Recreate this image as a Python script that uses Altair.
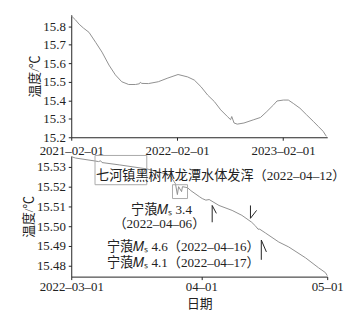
import altair as alt
import pandas as pd

# ---------- top panel data ----------
top_dates = ["2021-02-01", "2021-02-15", "2021-02-28", "2021-03-15", "2021-04-03", "2021-04-26",
             "2021-05-18", "2021-06-11", "2021-07-03", "2021-07-25", "2021-08-18", "2021-09-10",
             "2021-09-24", "2021-09-27", "2021-10-02", "2021-10-25", "2021-11-28", "2021-12-31",
             "2022-02-04", "2022-03-09", "2022-04-01", "2022-04-24", "2022-05-17", "2022-06-09",
             "2022-07-01", "2022-07-24", "2022-08-04", "2022-08-08", "2022-08-16", "2022-08-27",
             "2022-09-19", "2022-10-23", "2022-11-15", "2022-12-07", "2022-12-30", "2023-01-11",
             "2023-02-02", "2023-02-19", "2023-03-08", "2023-03-31", "2023-04-23", "2023-05-16",
             "2023-06-02", "2023-06-19", "2023-06-30"]
top_values = [15.856, 15.835, 15.811, 15.79, 15.767, 15.713,
              15.660, 15.590, 15.537, 15.500, 15.485, 15.485,
              15.489, 15.497, 15.491, 15.490, 15.500, 15.520,
              15.539, 15.526, 15.509, 15.473, 15.428, 15.393,
              15.348, 15.312, 15.295, 15.312, 15.277, 15.271,
              15.277, 15.295, 15.307, 15.339, 15.375, 15.396,
              15.401, 15.401, 15.383, 15.357, 15.321, 15.286,
              15.259, 15.232, 15.205]

# ---------- bottom panel data ----------
bot_dates = ["2022-03-01T00:00", "2022-03-02T00:00", "2022-03-06T16:00", "2022-03-07T12:00",
             "2022-03-08T00:00", "2022-03-08T08:00", "2022-03-12T14:00", "2022-03-19T00:00",
             "2022-03-24T10:00", "2022-03-25T20:00", "2022-03-26T07:00", "2022-03-26T14:00",
             "2022-03-27T07:00", "2022-03-27T12:00", "2022-03-28T17:00", "2022-03-29T12:00",
             "2022-03-31T12:00", "2022-04-01T05:00", "2022-04-02T02:00", "2022-04-02T21:00",
             "2022-04-05T05:00", "2022-04-08T08:00", "2022-04-10T16:00", "2022-04-13T00:00",
             "2022-04-13T23:00", "2022-04-14T12:00", "2022-04-14T22:00", "2022-04-16T08:00",
             "2022-04-19T11:00", "2022-04-21T20:00", "2022-04-25T20:00", "2022-04-28T22:00",
             "2022-04-30T14:00", "2022-05-01T00:00"]
bot_values = [15.5352, 15.5345, 15.5330, 15.5327,
              15.5331, 15.5322, 15.5310, 15.5290,
              15.5260, 15.5215, 15.5160, 15.5200,
              15.5175, 15.5200, 15.5195, 15.5180,
              15.5150, 15.5140, 15.5132, 15.5135,
              15.5105, 15.5080, 15.5055, 15.5020,
              15.5000, 15.4985, 15.4985, 15.4965,
              15.4920, 15.4895, 15.4840, 15.4790,
              15.4765, 15.4750]

# annotations (bottom panel)
note_texts = ["七河镇黑树林龙潭水体发浑（2022–04–12）", "宁蒗𝑀ₛ 3.4", "（2022–04–06）",
              "宁蒗𝑀ₛ 4.6（2022–04–16）", "宁蒗𝑀ₛ 4.1（2022–04–17）"]
note_dates = ["2022-03-06T22:00", "2022-03-22T12:00", "2022-03-22T00:00",
              "2022-03-09T12:00", "2022-03-09T12:00"]
note_values = [15.5255, 15.5080, 15.5010, 15.4895, 15.4815]
note_align = ["left", "center", "center", "left", "left"]

# arrows: vertical shaft + one barb
arrow_x = ["2022-04-03T14:00", "2022-04-12T17:00", "2022-04-15T07:00"]
arrow_y1 = [15.5020, 15.5105, 15.4830]
arrow_y2 = [15.5105, 15.5040, 15.4930]
barb_x1 = ["2022-04-03T14:00", "2022-04-12T17:00", "2022-04-15T07:00"]
barb_y1 = [15.5105, 15.5040, 15.4930]
barb_x2 = ["2022-04-04T14:00", "2022-04-14T04:00", "2022-04-16T12:00"]
barb_y2 = [15.5065, 15.5080, 15.4870]

# boxes
box_x1 = ["2022-03-06T16:00", "2022-03-25T03:00"]
box_x2 = ["2022-03-19T00:00", "2022-03-28T17:00"]
box_y1 = [15.5358, 15.5210]
box_y2 = [15.5210, 15.5140]

SERIF = "Liberation Serif, Times New Roman, Noto Sans CJK SC, serif"
INK = "#222222"
LINE = "#909090"

top_df = pd.DataFrame({"date": top_dates, "temp": top_values})
bot_df = pd.DataFrame({"date": bot_dates, "temp": bot_values})
note_df = pd.DataFrame({"date": note_dates, "temp": note_values, "text": note_texts, "align": note_align})
arrow_df = pd.DataFrame({"x": arrow_x, "y1": arrow_y1, "y2": arrow_y2})
barb_df = pd.DataFrame({"x1": barb_x1, "y1": barb_y1, "x2": barb_x2, "y2": barb_y2})
box_df = pd.DataFrame({"x1": box_x1, "x2": box_x2, "y1": box_y1, "y2": box_y2})

def dt(y, m, d):
    return alt.DateTime(year=y, month=m, date=d, utc=True)

axis_common = dict(labelFont=SERIF, labelFontSize=13, labelColor=INK,
                   domainColor=INK, tickColor=INK, tickSize=3, grid=False,
                   labelOverlap=False, labelFlush=False,
                   titleFont=SERIF, titleFontSize=13, titleFontWeight="normal", titleColor=INK)

# ----- top -----
top_x = alt.X("date:T", title=None,
              scale=alt.Scale(type="utc", domain=[dt(2021, 2, 1), dt(2023, 7, 3)]),
              axis=alt.Axis(values=[dt(2021, 2, 1), dt(2022, 2, 1), dt(2023, 2, 1)],
                            labelExpr="utcFormat(datum.value, '%Y–%m–%d')",
                            labelPadding=4, **axis_common))
top_y = alt.Y("temp:Q", title="温度/℃",
              scale=alt.Scale(domain=[15.2, 15.862], nice=False, zero=False),
              axis=alt.Axis(values=[15.2, 15.3, 15.4, 15.5, 15.6, 15.7, 15.8], format=".1f",
                            labelPadding=3, titlePadding=1, **axis_common))
top = alt.Chart(top_df).mark_line(color=LINE, strokeWidth=1).encode(
    x=top_x, y=top_y).properties(width=259, height=124)

# ----- bottom -----
bx_scale = alt.Scale(type="utc", domain=[dt(2022, 3, 1), dt(2022, 5, 1)])
by_scale = alt.Scale(domain=[15.4745, 15.5355], nice=False, zero=False)
bx_axis = alt.Axis(values=[dt(2022, 3, 1), dt(2022, 4, 1), dt(2022, 5, 1)],
                   labelExpr="month(datum.value)==2 ? utcFormat(datum.value, '%Y–%m–%d') : utcFormat(datum.value, '%m–%d')",
                   labelPadding=1, titlePadding=4, **axis_common)
by_axis = alt.Axis(values=[15.48, 15.49, 15.50, 15.51, 15.52, 15.53], format=".2f",
                   labelPadding=3, titlePadding=1, **axis_common)

def BX(field):
    return alt.X(field, title="日期", scale=bx_scale, axis=bx_axis)

def BY(field):
    return alt.Y(field, title="温度/℃", scale=by_scale, axis=by_axis)

bline = alt.Chart(bot_df).mark_line(color=LINE, strokeWidth=1).encode(
    x=BX("date:T"), y=BY("temp:Q"))
boxes = alt.Chart(box_df).mark_rect(fillOpacity=0, stroke="#aaaaaa", strokeWidth=1).encode(
    x=BX("x1:T"), x2="x2:T", y=BY("y1:Q"), y2="y2:Q")
shafts = alt.Chart(arrow_df).mark_rule(color=INK, strokeWidth=1).encode(
    x=BX("x:T"), y=BY("y1:Q"), y2="y2:Q")
barbs = alt.Chart(barb_df).mark_rule(color=INK, strokeWidth=1).encode(
    x=BX("x1:T"), x2="x2:T", y=BY("y1:Q"), y2="y2:Q")
notes_left = alt.Chart(note_df[note_df["align"] == "left"]).mark_text(
    align="left", baseline="middle", font=SERIF, fontSize=13.3, color=INK).encode(
    x=BX("date:T"), y=BY("temp:Q"), text="text:N")
notes_center = alt.Chart(note_df[note_df["align"] == "center"]).mark_text(
    align="center", baseline="middle", font=SERIF, fontSize=13.3, color=INK).encode(
    x=BX("date:T"), y=BY("temp:Q"), text="text:N")

bottom = alt.layer(bline, boxes, shafts, barbs, notes_left, notes_center).properties(
    width=259, height=122)

chart = alt.vconcat(top, bottom, spacing=19, bounds="flush").properties(
    padding={"left": 14, "top": 4, "right": 0, "bottom": 0}
).configure_view(stroke=None)

chart.save("out.html", embed_options={"renderer": "svg", "actions": False})
